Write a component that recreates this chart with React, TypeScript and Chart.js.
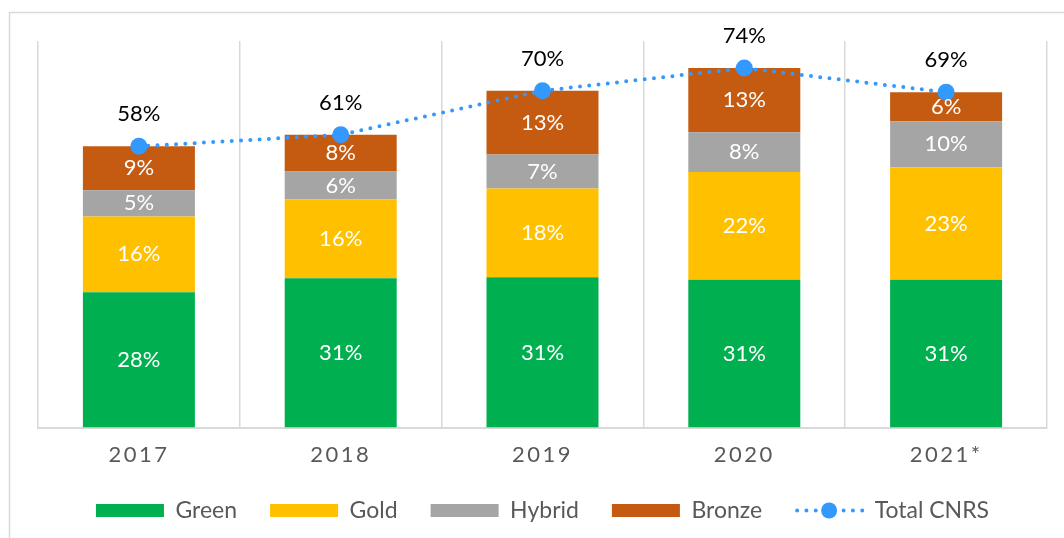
import React, { useEffect, useRef } from 'react';
import { Chart, registerables } from 'chart.js';
Chart.register(...registerables);

const categories = ['2017', '2018', '2019', '2020', '2021*'];
const green = [28.0, 30.9, 31.1, 30.6, 30.6];
const gold = [15.7, 16.3, 18.4, 22.3, 23.3];
const hybrid = [5.4, 5.8, 7.0, 8.2, 9.5];
const bronze = [9.1, 7.6, 13.2, 13.3, 6.0];
const totalCNRS = [58.2, 60.6, 69.7, 74.4, 69.4];

const FONT = 'Lato, "Open Sans", sans-serif';
const BLUE = '#3399FF';

const decorPlugin = {
  id: 'decor',
  beforeDraw(chart: any) {
    const ctx = chart.ctx;
    ctx.save();
    ctx.strokeStyle = '#d9d9d9';
    ctx.lineWidth = 1.5;
    ctx.strokeRect(9.5, 12.5, 1200, 700);
    ctx.restore();
  },
  afterDatasetsDraw(chart: any) {
    const ctx = chart.ctx;
    ctx.save();
    ctx.textAlign = 'center';
    ctx.textBaseline = 'middle';
    chart.data.datasets.forEach((ds: any, i: number) => {
      const meta = chart.getDatasetMeta(i);
      meta.data.forEach((el: any, j: number) => {
        const v = ds.data[j] as number;
        const txt = Math.round(v) + '%';
        if (ds.type === 'line') {
          ctx.fillStyle = '#000000';
          ctx.font = `22px ${FONT}`;
          ctx.fillText(txt, el.x, el.y - 32);
        } else {
          ctx.fillStyle = '#ffffff';
          ctx.font = `22px ${FONT}`;
          ctx.fillText(txt, el.x, (el.y + el.base) / 2);
        }
      });
    });
    ctx.restore();
    ctx.letterSpacing = '2.5px';
  },
  afterDraw(chart: any) {
    const ctx = chart.ctx;
    ctx.letterSpacing = '0px';
    const legend = chart.legend;
    if (!legend || !legend.legendHitBoxes) return;
    const items = legend.legendItems;
    items.forEach((it: any, k: number) => {
      if (it.datasetIndex !== 4) return;
      const hb = legend.legendHitBoxes[k];
      const cy = hb.top + hb.height / 2;
      const x0 = hb.left;
      const x1 = hb.left + 68;
      ctx.save();
      ctx.strokeStyle = BLUE;
      ctx.lineWidth = 4;
      ctx.lineCap = 'round';
      ctx.setLineDash([0, 9.3]);
      ctx.beginPath();
      ctx.moveTo(x0 + 2, cy);
      ctx.lineTo(x1, cy);
      ctx.stroke();
      ctx.setLineDash([]);
      ctx.fillStyle = BLUE;
      ctx.beginPath();
      ctx.arc((x0 + x1) / 2, cy, 8, 0, Math.PI * 2);
      ctx.fill();
      ctx.restore();
    });
  },
};

export default function App() {
  const ref = useRef<HTMLCanvasElement>(null);
  useEffect(() => {
    document.body.style.margin = '0';
    const barCommon = { type: 'bar' as const, stack: 'bars', order: 1, borderWidth: 0, categoryPercentage: 1, barPercentage: 0.555 };
    const chart = new Chart(ref.current!, {
      type: 'bar',
      data: {
        labels: categories,
        datasets: [
          { ...barCommon, label: 'Green', data: green, backgroundColor: '#00B050' },
          { ...barCommon, label: 'Gold', data: gold, backgroundColor: '#FFC000' },
          { ...barCommon, label: 'Hybrid', data: hybrid, backgroundColor: '#A5A5A5' },
          { ...barCommon, label: 'Bronze', data: bronze, backgroundColor: '#C55A11' },
          {
            type: 'line' as const,
            label: 'Total CNRS',
            data: totalCNRS,
            stack: 'line',
            order: 0,
            borderColor: BLUE,
            backgroundColor: BLUE,
            borderWidth: 4,
            borderCapStyle: 'round',
            borderDash: [0, 9.3],
            pointRadius: 8.5,
            pointBackgroundColor: BLUE,
            pointBorderColor: BLUE,
            pointBorderWidth: 0,
            tension: 0,
            fill: false,
          } as any,
        ],
      },
      options: {
        animation: false,
        responsive: true,
        maintainAspectRatio: false,
        layout: { padding: { top: 41, left: 38, right: 17, bottom: 6 } },
        scales: {
          x: {
            stacked: true,
            offset: true,
            grid: { display: true, offset: true, color: '#d9d9d9', lineWidth: 1.5, drawTicks: false },
            border: { display: true, color: '#d9d9d9', width: 2 },
            ticks: { color: '#595959', font: { family: FONT, size: 22 }, padding: 14, z: 1 },
            afterFit: (scale: any) => {
              scale.height = scale.height - 16;
            },
          },
          y: {
            stacked: true,
            display: false,
            min: 0,
            max: 80,
          },
        },
        plugins: {
          tooltip: { enabled: false },
          legend: {
            position: 'bottom',
            labels: {
              color: '#595959',
              font: { family: FONT, size: 23 },
              boxWidth: 68,
              boxHeight: 13,
              padding: 33,
              sort: (a: any, b: any) => a.datasetIndex - b.datasetIndex,
              generateLabels: (c: any) => {
                const items = Chart.defaults.plugins.legend.labels.generateLabels(c);
                items.forEach((it: any) => {
                  if (it.datasetIndex === 4) {
                    it.fillStyle = 'rgba(0,0,0,0)';
                    it.strokeStyle = 'rgba(0,0,0,0)';
                    it.lineWidth = 0;
                    it.lineDash = [];
                  } else {
                    it.lineWidth = 0;
                  }
                });
                return items;
              },
            },
          },
        },
      },
      plugins: [decorPlugin],
    });
    return () => chart.destroy();
  }, []);
  return (
    <div style={{ position: 'relative', width: 1064, height: 538 }}>
      <canvas ref={ref} />
    </div>
  );
}
